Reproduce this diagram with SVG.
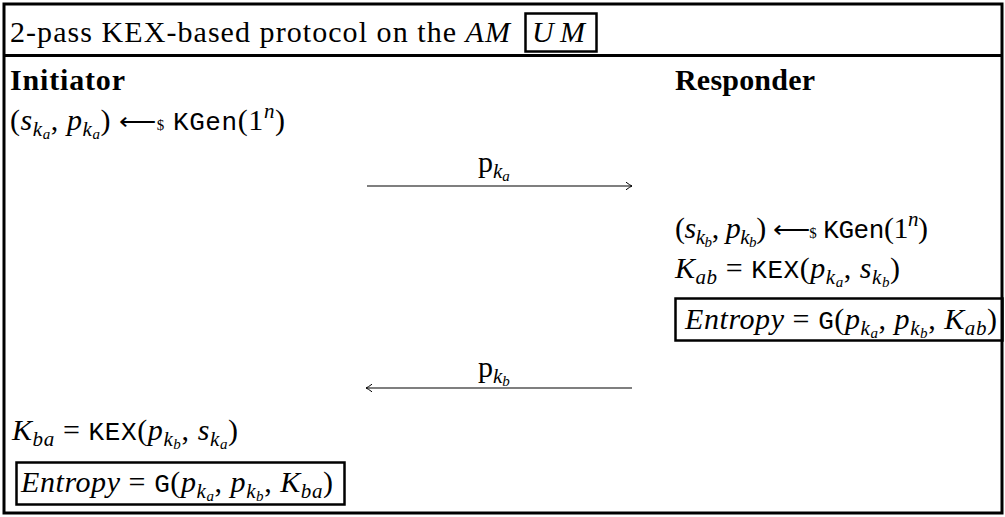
<svg xmlns="http://www.w3.org/2000/svg" width="1005" height="517" viewBox="0 0 1005 517">
<defs>
<style>
.t{font-family:"Liberation Serif",serif;font-size:30px;fill:#000}
.h{font-size:30px}
.i{font-style:italic}
.b{font-weight:bold}
.tt{font-family:"Liberation Mono",monospace;font-size:26px;font-style:normal}
.s1{font-size:21px}
.s2{font-size:15px}
.ar{font-family:"DejaVu Sans",sans-serif;font-size:26px;font-weight:200}
.frame{fill:none;stroke:#000;stroke-width:3}
.box{fill:none;stroke:#000;stroke-width:2.5}
.msg{fill:none;stroke:#000;stroke-width:1.1}
</style>
<marker id="ah" viewBox="-8 -5 10 10" refX="0" refY="0" markerWidth="10" markerHeight="10" orient="auto" markerUnits="userSpaceOnUse">
<path d="M-6,-3.8 Q-2,-0.8 0,0 Q-2,0.8 -6,3.8" fill="none" stroke="#000" stroke-width="1"/>
</marker>
</defs>
<rect width="1005" height="517" fill="#fff"/>
<g id="frame">
<rect class="frame" x="4" y="4" width="998" height="509"/>
<line class="frame" x1="4" y1="55.5" x2="1002" y2="55.5"/>
</g>
<g id="title">
<text class="t h" x="10" y="42" textLength="500" lengthAdjust="spacing">2-pass KEX-based protocol on the <tspan class="i">AM</tspan></text>
<rect class="box" x="525.5" y="13.5" width="71" height="38"/>
<text class="t h i" x="532" y="42" textLength="53" lengthAdjust="spacing">UM</text>
</g>
<g id="initiator">
<text class="t b" x="10" y="90" textLength="115" lengthAdjust="spacing">Initiator</text>
<text class="t" x="10" y="130" textLength="275" lengthAdjust="spacing">(<tspan class="i">s</tspan><tspan class="i s1" dy="6">k</tspan><tspan class="i s2" dy="3">a</tspan><tspan dy="-9">, </tspan><tspan class="i">p</tspan><tspan class="i s1" dy="6">k</tspan><tspan class="i s2" dy="3">a</tspan><tspan dy="-9">) </tspan><tspan class="ar">⟵</tspan><tspan class="s2">$</tspan> <tspan class="tt">KGen</tspan>(1<tspan class="i s1" dy="-12">n</tspan><tspan dy="12">)</tspan></text>
<text class="t" x="12" y="440" textLength="226" lengthAdjust="spacing"><tspan class="i">K</tspan><tspan class="i s1" dy="6">ba</tspan><tspan dy="-6"> = </tspan><tspan class="tt">KEX</tspan>(<tspan class="i">p</tspan><tspan class="i s1" dy="6">k</tspan><tspan class="i s2" dy="3">b</tspan><tspan dy="-9">, </tspan><tspan class="i">s</tspan><tspan class="i s1" dy="6">k</tspan><tspan class="i s2" dy="3">a</tspan><tspan dy="-9">)</tspan></text>
<rect class="box" x="16.5" y="462.5" width="328" height="42"/>
<text class="t" x="21" y="492" textLength="312" lengthAdjust="spacing"><tspan class="i">Entropy</tspan> = <tspan class="tt">G</tspan>(<tspan class="i">p</tspan><tspan class="i s1" dy="6">k</tspan><tspan class="i s2" dy="3">a</tspan><tspan dy="-9">, </tspan><tspan class="i">p</tspan><tspan class="i s1" dy="6">k</tspan><tspan class="i s2" dy="3">b</tspan><tspan dy="-9">, </tspan><tspan class="i">K</tspan><tspan class="i s1" dy="6">ba</tspan><tspan dy="-6">)</tspan></text>
</g>
<g id="responder">
<text class="t b" x="675" y="90" textLength="140" lengthAdjust="spacing">Responder</text>
<text class="t" x="675" y="238" textLength="253" lengthAdjust="spacing">(<tspan class="i">s</tspan><tspan class="i s1" dy="6">k</tspan><tspan class="i s2" dy="3">b</tspan><tspan dy="-9">, </tspan><tspan class="i">p</tspan><tspan class="i s1" dy="6">k</tspan><tspan class="i s2" dy="3">b</tspan><tspan dy="-9">) </tspan><tspan class="ar">⟵</tspan><tspan class="s2">$</tspan> <tspan class="tt">KGen</tspan>(1<tspan class="i s1" dy="-12">n</tspan><tspan dy="12">)</tspan></text>
<text class="t" x="675" y="278" textLength="225" lengthAdjust="spacing"><tspan class="i">K</tspan><tspan class="i s1" dy="6">ab</tspan><tspan dy="-6"> = </tspan><tspan class="tt">KEX</tspan>(<tspan class="i">p</tspan><tspan class="i s1" dy="6">k</tspan><tspan class="i s2" dy="3">a</tspan><tspan dy="-9">, </tspan><tspan class="i">s</tspan><tspan class="i s1" dy="6">k</tspan><tspan class="i s2" dy="3">b</tspan><tspan dy="-9">)</tspan></text>
<rect class="box" x="675.5" y="298.5" width="327" height="42"/>
<text class="t" x="685" y="329" textLength="312" lengthAdjust="spacing"><tspan class="i">Entropy</tspan> = <tspan class="tt">G</tspan>(<tspan class="i">p</tspan><tspan class="i s1" dy="6">k</tspan><tspan class="i s2" dy="3">a</tspan><tspan dy="-9">, </tspan><tspan class="i">p</tspan><tspan class="i s1" dy="6">k</tspan><tspan class="i s2" dy="3">b</tspan><tspan dy="-9">, </tspan><tspan class="i">K</tspan><tspan class="i s1" dy="6">ab</tspan><tspan dy="-6">)</tspan></text>
</g>
<g id="connectors">
<g id="msg1">
<line class="msg" x1="367" y1="186" x2="632" y2="186" marker-end="url(#ah)"/>
<text class="t" x="478" y="172">p<tspan class="i s1" dy="6">k</tspan><tspan class="i s2" dy="3">a</tspan></text>
</g>
<g id="msg2">
<line class="msg" x1="632" y1="388" x2="366" y2="388" marker-end="url(#ah)"/>
<text class="t" x="478" y="377">p<tspan class="i s1" dy="6">k</tspan><tspan class="i s2" dy="3">b</tspan></text>
</g>
</g>
</svg>
